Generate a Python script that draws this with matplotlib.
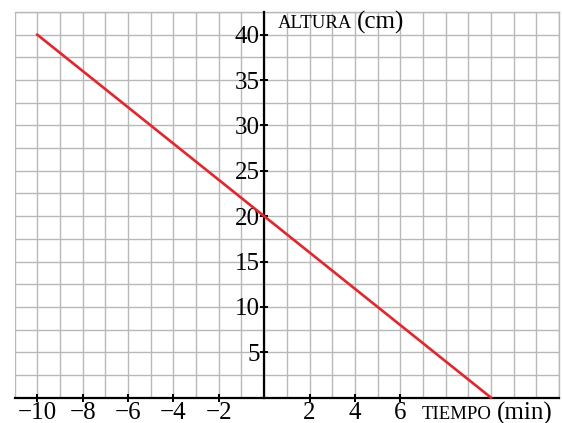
import numpy as np
import matplotlib.pyplot as plt
from matplotlib.ticker import MultipleLocator, FixedLocator

# Datos
tiempo = [-10, 10]
altura = [40, 0]
x_ticks = [-10, -8, -6, -4, -2, 2, 4, 6]
y_ticks = [5, 10, 15, 20, 25, 30, 35, 40]

plt.rcParams['font.family'] = ['Liberation Serif', 'DejaVu Serif']

fig = plt.figure(figsize=(5.62, 4.23), dpi=100)
ax = fig.add_axes([0.026, 0.06, 0.9687, 0.9116])

ax.set_xlim(-11, 13)
ax.set_ylim(0, 42.5)

# Cuadrícula
ax.xaxis.set_minor_locator(MultipleLocator(1))
ax.yaxis.set_minor_locator(MultipleLocator(2.5))
ax.grid(which='both', color='#b8b8b8', lw=1.0)
ax.set_axisbelow(True)

ax.xaxis.set_major_locator(FixedLocator(x_ticks))
ax.yaxis.set_major_locator(FixedLocator(y_ticks))
ax.set_xticklabels([f'{v}'.replace('-', '\u2212') for v in x_ticks])
ax.set_yticklabels([str(v) for v in y_ticks])

# Ejes
for s in ['top', 'right']:
    ax.spines[s].set_color('#b8b8b8')
    ax.spines[s].set_linewidth(1.0)
ax.spines['left'].set_position(('data', 0))
ax.spines['bottom'].set_position(('data', 0))
ax.spines['left'].set_linewidth(1.6)
ax.spines['bottom'].set_linewidth(1.6)
ax.spines['left'].set_zorder(3)
ax.spines['bottom'].set_zorder(3)
ax.tick_params(which='major', direction='inout', length=6, width=1.4,
               labelsize=18, pad=0)
ax.tick_params(which='minor', length=0)

ax.plot(tiempo, altura, color='#e8232a', lw=1.9, zorder=4, clip_on=False)

# Etiquetas
ax.text(0.6, 40.7, 'ALTURA', fontsize=13.5, ha='left', va='baseline')
ax.text(4.1, 40.7, '(cm)', fontsize=18, ha='left', va='baseline')
ax.text(6.95, -2.4, 'TIEMPO', fontsize=13.5, ha='left', va='baseline', clip_on=False)
ax.text(10.25, -2.4, '(min)', fontsize=18, ha='left', va='baseline', clip_on=False)

fig.savefig('out.png', dpi=100)
